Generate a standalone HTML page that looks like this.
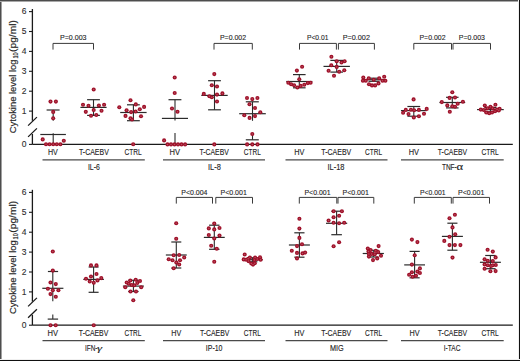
<!DOCTYPE html>
<html><head><meta charset="utf-8"><title>Cytokine levels</title><style>
html,body{margin:0;padding:0;background:#fff;overflow:hidden}
svg{display:block}
text{font-family:"Liberation Sans",sans-serif}
.t text{stroke:#1e1e1e;stroke-width:0.12px}
</style></head><body>
<svg width="520" height="361" viewBox="0 0 520 361">
<rect x="0" y="0" width="520" height="361" fill="#fff"/>
<g fill="#1e1e1e">
<g stroke-linecap="butt" fill="none">
<line x1="32.4" y1="9" x2="32.4" y2="120.8" stroke="#1a1a1a" stroke-width="1.3"/>
<line x1="32.4" y1="134" x2="32.4" y2="144.4" stroke="#1a1a1a" stroke-width="1.3"/>
<line x1="28.1" y1="125.6" x2="36.9" y2="117.1" stroke="#1a1a1a" stroke-width="1.3"/>
<line x1="28.1" y1="136.9" x2="36.9" y2="128.4" stroke="#1a1a1a" stroke-width="1.3"/>
<line x1="32.4" y1="144.4" x2="512.8" y2="144.4" stroke="#1a1a1a" stroke-width="1.3"/>
<line x1="29" y1="11.6" x2="32.4" y2="11.6" stroke="#1a1a1a" stroke-width="1.1"/>
<line x1="29" y1="31.5" x2="32.4" y2="31.5" stroke="#1a1a1a" stroke-width="1.1"/>
<line x1="29" y1="51.4" x2="32.4" y2="51.4" stroke="#1a1a1a" stroke-width="1.1"/>
<line x1="29" y1="71.3" x2="32.4" y2="71.3" stroke="#1a1a1a" stroke-width="1.1"/>
<line x1="29" y1="91.2" x2="32.4" y2="91.2" stroke="#1a1a1a" stroke-width="1.1"/>
<line x1="29" y1="111.1" x2="32.4" y2="111.1" stroke="#1a1a1a" stroke-width="1.1"/>
<line x1="29" y1="144.4" x2="32.4" y2="144.4" stroke="#1a1a1a" stroke-width="1.1"/>
<line x1="42.5" y1="159.8" x2="144.8" y2="159.8" stroke="#4a4a4a" stroke-width="1.2"/>
<line x1="163" y1="159.8" x2="265" y2="159.8" stroke="#4a4a4a" stroke-width="1.2"/>
<line x1="285.5" y1="159.8" x2="387.5" y2="159.8" stroke="#4a4a4a" stroke-width="1.2"/>
<line x1="401" y1="159.8" x2="503.7" y2="159.8" stroke="#4a4a4a" stroke-width="1.2"/>
<line x1="32.4" y1="189.8" x2="32.4" y2="301.6" stroke="#1a1a1a" stroke-width="1.3"/>
<line x1="32.4" y1="314.8" x2="32.4" y2="325.2" stroke="#1a1a1a" stroke-width="1.3"/>
<line x1="28.1" y1="306.4" x2="36.9" y2="297.9" stroke="#1a1a1a" stroke-width="1.3"/>
<line x1="28.1" y1="317.7" x2="36.9" y2="309.2" stroke="#1a1a1a" stroke-width="1.3"/>
<line x1="32.4" y1="325.2" x2="512.8" y2="325.2" stroke="#1a1a1a" stroke-width="1.3"/>
<line x1="29" y1="192.4" x2="32.4" y2="192.4" stroke="#1a1a1a" stroke-width="1.1"/>
<line x1="29" y1="212.3" x2="32.4" y2="212.3" stroke="#1a1a1a" stroke-width="1.1"/>
<line x1="29" y1="232.2" x2="32.4" y2="232.2" stroke="#1a1a1a" stroke-width="1.1"/>
<line x1="29" y1="252.1" x2="32.4" y2="252.1" stroke="#1a1a1a" stroke-width="1.1"/>
<line x1="29" y1="272" x2="32.4" y2="272" stroke="#1a1a1a" stroke-width="1.1"/>
<line x1="29" y1="291.9" x2="32.4" y2="291.9" stroke="#1a1a1a" stroke-width="1.1"/>
<line x1="29" y1="325.2" x2="32.4" y2="325.2" stroke="#1a1a1a" stroke-width="1.1"/>
<line x1="42.5" y1="340.6" x2="144.8" y2="340.6" stroke="#4a4a4a" stroke-width="1.2"/>
<line x1="163" y1="340.6" x2="265" y2="340.6" stroke="#4a4a4a" stroke-width="1.2"/>
<line x1="285.5" y1="340.6" x2="387.5" y2="340.6" stroke="#4a4a4a" stroke-width="1.2"/>
<line x1="401" y1="340.6" x2="503.7" y2="340.6" stroke="#4a4a4a" stroke-width="1.2"/>
<line x1="46.6" y1="110" x2="59.6" y2="110" stroke="#2b2b2b" stroke-width="1.2"/>
<line x1="53.2" y1="110" x2="53.2" y2="120.8" stroke="#2b2b2b" stroke-width="1.1"/>
<line x1="40.3" y1="134.5" x2="65.9" y2="134.5" stroke="#2b2b2b" stroke-width="1.2"/>
<line x1="53.2" y1="133.3" x2="53.2" y2="144.3" stroke="#2b2b2b" stroke-width="1.1"/>
<line x1="87.1" y1="99.7" x2="99.9" y2="99.7" stroke="#2b2b2b" stroke-width="1.2"/>
<line x1="87.1" y1="115.4" x2="99.9" y2="115.4" stroke="#2b2b2b" stroke-width="1.2"/>
<line x1="80.4" y1="107.4" x2="106.6" y2="107.4" stroke="#2b2b2b" stroke-width="1.2"/>
<line x1="93.5" y1="99.7" x2="93.5" y2="115.4" stroke="#2b2b2b" stroke-width="1.1"/>
<line x1="127" y1="104.8" x2="139.8" y2="104.8" stroke="#2b2b2b" stroke-width="1.2"/>
<line x1="127" y1="120.7" x2="139.8" y2="120.7" stroke="#2b2b2b" stroke-width="1.2"/>
<line x1="120.2" y1="112.5" x2="146.6" y2="112.5" stroke="#2b2b2b" stroke-width="1.2"/>
<line x1="133.4" y1="104.8" x2="133.4" y2="120.7" stroke="#2b2b2b" stroke-width="1.1"/>
<line x1="168.5" y1="99.7" x2="181.4" y2="99.7" stroke="#2b2b2b" stroke-width="1.2"/>
<line x1="175" y1="99.7" x2="175" y2="120.6" stroke="#2b2b2b" stroke-width="1.1"/>
<line x1="161.9" y1="118.4" x2="188" y2="118.4" stroke="#2b2b2b" stroke-width="1.2"/>
<line x1="175" y1="133.1" x2="175" y2="144.4" stroke="#2b2b2b" stroke-width="1.1"/>
<line x1="208.1" y1="80.7" x2="220.9" y2="80.7" stroke="#2b2b2b" stroke-width="1.2"/>
<line x1="208.1" y1="109.8" x2="220.9" y2="109.8" stroke="#2b2b2b" stroke-width="1.2"/>
<line x1="201.3" y1="95.4" x2="227.7" y2="95.4" stroke="#2b2b2b" stroke-width="1.2"/>
<line x1="214.5" y1="80.7" x2="214.5" y2="109.8" stroke="#2b2b2b" stroke-width="1.1"/>
<line x1="245.8" y1="101.8" x2="258.8" y2="101.8" stroke="#2b2b2b" stroke-width="1.2"/>
<line x1="252.5" y1="101.8" x2="252.5" y2="120.8" stroke="#2b2b2b" stroke-width="1.1"/>
<line x1="239.2" y1="113.7" x2="265.8" y2="113.7" stroke="#2b2b2b" stroke-width="1.2"/>
<line x1="245.8" y1="139.8" x2="258.8" y2="139.8" stroke="#2b2b2b" stroke-width="1.2"/>
<line x1="252.5" y1="133" x2="252.5" y2="139.8" stroke="#2b2b2b" stroke-width="1.1"/>
<line x1="293" y1="74.6" x2="305.6" y2="74.6" stroke="#2b2b2b" stroke-width="1.2"/>
<line x1="293" y1="87.8" x2="305.6" y2="87.8" stroke="#2b2b2b" stroke-width="1.2"/>
<line x1="286.25" y1="81.5" x2="312.35" y2="81.5" stroke="#2b2b2b" stroke-width="1.2"/>
<line x1="299.3" y1="74.6" x2="299.3" y2="87.8" stroke="#2b2b2b" stroke-width="1.1"/>
<line x1="330.35" y1="60.4" x2="343.05" y2="60.4" stroke="#2b2b2b" stroke-width="1.2"/>
<line x1="330.35" y1="72.1" x2="343.05" y2="72.1" stroke="#2b2b2b" stroke-width="1.2"/>
<line x1="323.5" y1="66.4" x2="349.9" y2="66.4" stroke="#2b2b2b" stroke-width="1.2"/>
<line x1="336.7" y1="60.4" x2="336.7" y2="72.1" stroke="#2b2b2b" stroke-width="1.1"/>
<line x1="368.5" y1="78.2" x2="379.5" y2="78.2" stroke="#2b2b2b" stroke-width="1.2"/>
<line x1="368.5" y1="81.3" x2="379.5" y2="81.3" stroke="#2b2b2b" stroke-width="1.2"/>
<line x1="362" y1="79.7" x2="386" y2="79.7" stroke="#2b2b2b" stroke-width="1.2"/>
<line x1="374" y1="78.2" x2="374" y2="81.3" stroke="#2b2b2b" stroke-width="1.1"/>
<line x1="407.4" y1="106.5" x2="420.2" y2="106.5" stroke="#2b2b2b" stroke-width="1.2"/>
<line x1="407.4" y1="116.2" x2="420.2" y2="116.2" stroke="#2b2b2b" stroke-width="1.2"/>
<line x1="400.95" y1="110.6" x2="426.65" y2="110.6" stroke="#2b2b2b" stroke-width="1.2"/>
<line x1="413.8" y1="106.5" x2="413.8" y2="116.2" stroke="#2b2b2b" stroke-width="1.1"/>
<line x1="446.05" y1="97.3" x2="458.55" y2="97.3" stroke="#2b2b2b" stroke-width="1.2"/>
<line x1="446.05" y1="107.9" x2="458.55" y2="107.9" stroke="#2b2b2b" stroke-width="1.2"/>
<line x1="439.4" y1="102.5" x2="465.2" y2="102.5" stroke="#2b2b2b" stroke-width="1.2"/>
<line x1="452.3" y1="97.3" x2="452.3" y2="107.9" stroke="#2b2b2b" stroke-width="1.1"/>
<line x1="484.4" y1="107.6" x2="496.4" y2="107.6" stroke="#2b2b2b" stroke-width="1.2"/>
<line x1="484.4" y1="111.8" x2="496.4" y2="111.8" stroke="#2b2b2b" stroke-width="1.2"/>
<line x1="477.05" y1="109.6" x2="503.75" y2="109.6" stroke="#2b2b2b" stroke-width="1.2"/>
<line x1="490.4" y1="107.6" x2="490.4" y2="111.8" stroke="#2b2b2b" stroke-width="1.1"/>
<line x1="47.9" y1="271.5" x2="58.1" y2="271.5" stroke="#2b2b2b" stroke-width="1.2"/>
<line x1="52.8" y1="271.5" x2="52.8" y2="301.2" stroke="#2b2b2b" stroke-width="1.1"/>
<line x1="42.3" y1="288.3" x2="63.4" y2="288.3" stroke="#2b2b2b" stroke-width="1.2"/>
<line x1="47.7" y1="319.1" x2="58.1" y2="319.1" stroke="#2b2b2b" stroke-width="1.2"/>
<line x1="52.8" y1="314.4" x2="52.8" y2="319.1" stroke="#2b2b2b" stroke-width="1.1"/>
<line x1="88.6" y1="267" x2="98.6" y2="267" stroke="#2b2b2b" stroke-width="1.2"/>
<line x1="88.6" y1="292.3" x2="98.6" y2="292.3" stroke="#2b2b2b" stroke-width="1.2"/>
<line x1="83.3" y1="279.4" x2="103.9" y2="279.4" stroke="#2b2b2b" stroke-width="1.2"/>
<line x1="93.6" y1="267" x2="93.6" y2="292.3" stroke="#2b2b2b" stroke-width="1.1"/>
<line x1="128.2" y1="280.3" x2="138.6" y2="280.3" stroke="#2b2b2b" stroke-width="1.2"/>
<line x1="128.2" y1="291.5" x2="138.6" y2="291.5" stroke="#2b2b2b" stroke-width="1.2"/>
<line x1="122.9" y1="286.1" x2="143.9" y2="286.1" stroke="#2b2b2b" stroke-width="1.2"/>
<line x1="133.4" y1="280.3" x2="133.4" y2="291.5" stroke="#2b2b2b" stroke-width="1.1"/>
<line x1="171.3" y1="242" x2="181.3" y2="242" stroke="#2b2b2b" stroke-width="1.2"/>
<line x1="171.3" y1="268" x2="181.3" y2="268" stroke="#2b2b2b" stroke-width="1.2"/>
<line x1="165.85" y1="255" x2="186.75" y2="255" stroke="#2b2b2b" stroke-width="1.2"/>
<line x1="176.3" y1="242" x2="176.3" y2="268" stroke="#2b2b2b" stroke-width="1.1"/>
<line x1="209.1" y1="225.2" x2="219.5" y2="225.2" stroke="#2b2b2b" stroke-width="1.2"/>
<line x1="209.1" y1="249.3" x2="219.5" y2="249.3" stroke="#2b2b2b" stroke-width="1.2"/>
<line x1="203.85" y1="237.4" x2="224.75" y2="237.4" stroke="#2b2b2b" stroke-width="1.2"/>
<line x1="214.3" y1="225.2" x2="214.3" y2="249.3" stroke="#2b2b2b" stroke-width="1.1"/>
<line x1="247.4" y1="257.8" x2="257.4" y2="257.8" stroke="#2b2b2b" stroke-width="1.2"/>
<line x1="247.4" y1="261.8" x2="257.4" y2="261.8" stroke="#2b2b2b" stroke-width="1.2"/>
<line x1="242" y1="259.7" x2="262.8" y2="259.7" stroke="#2b2b2b" stroke-width="1.2"/>
<line x1="252.4" y1="257.8" x2="252.4" y2="261.8" stroke="#2b2b2b" stroke-width="1.1"/>
<line x1="294.3" y1="232.8" x2="304.5" y2="232.8" stroke="#2b2b2b" stroke-width="1.2"/>
<line x1="294.3" y1="257.2" x2="304.5" y2="257.2" stroke="#2b2b2b" stroke-width="1.2"/>
<line x1="288.9" y1="245" x2="309.9" y2="245" stroke="#2b2b2b" stroke-width="1.2"/>
<line x1="299.4" y1="232.8" x2="299.4" y2="257.2" stroke="#2b2b2b" stroke-width="1.1"/>
<line x1="331.3" y1="211.2" x2="341.9" y2="211.2" stroke="#2b2b2b" stroke-width="1.2"/>
<line x1="331.3" y1="234.7" x2="341.9" y2="234.7" stroke="#2b2b2b" stroke-width="1.2"/>
<line x1="326" y1="223.3" x2="347.2" y2="223.3" stroke="#2b2b2b" stroke-width="1.2"/>
<line x1="336.6" y1="211.2" x2="336.6" y2="234.7" stroke="#2b2b2b" stroke-width="1.1"/>
<line x1="368.1" y1="250.3" x2="378.5" y2="250.3" stroke="#2b2b2b" stroke-width="1.2"/>
<line x1="368.1" y1="257" x2="378.5" y2="257" stroke="#2b2b2b" stroke-width="1.2"/>
<line x1="362.7" y1="253.5" x2="383.9" y2="253.5" stroke="#2b2b2b" stroke-width="1.2"/>
<line x1="373.3" y1="250.3" x2="373.3" y2="257" stroke="#2b2b2b" stroke-width="1.1"/>
<line x1="409.55" y1="251.4" x2="419.65" y2="251.4" stroke="#2b2b2b" stroke-width="1.2"/>
<line x1="409.55" y1="277.8" x2="419.65" y2="277.8" stroke="#2b2b2b" stroke-width="1.2"/>
<line x1="404.2" y1="264.9" x2="425" y2="264.9" stroke="#2b2b2b" stroke-width="1.2"/>
<line x1="414.6" y1="251.4" x2="414.6" y2="277.8" stroke="#2b2b2b" stroke-width="1.1"/>
<line x1="447.35" y1="223.2" x2="457.45" y2="223.2" stroke="#2b2b2b" stroke-width="1.2"/>
<line x1="447.35" y1="250.2" x2="457.45" y2="250.2" stroke="#2b2b2b" stroke-width="1.2"/>
<line x1="441.9" y1="236.4" x2="462.9" y2="236.4" stroke="#2b2b2b" stroke-width="1.2"/>
<line x1="452.4" y1="223.2" x2="452.4" y2="250.2" stroke="#2b2b2b" stroke-width="1.1"/>
<line x1="485.2" y1="255.5" x2="495.6" y2="255.5" stroke="#2b2b2b" stroke-width="1.2"/>
<line x1="485.2" y1="268.7" x2="495.6" y2="268.7" stroke="#2b2b2b" stroke-width="1.2"/>
<line x1="479.9" y1="262.3" x2="500.9" y2="262.3" stroke="#2b2b2b" stroke-width="1.2"/>
<line x1="490.4" y1="255.5" x2="490.4" y2="268.7" stroke="#2b2b2b" stroke-width="1.1"/>
<path d="M53 49.6V43.4H93.5V49.6" stroke="#3a3a3a" stroke-width="1.0"/>
<path d="M214 49.6V43.4H252.3V49.6" stroke="#3a3a3a" stroke-width="1.0"/>
<path d="M299.5 49.6V43.4H336.4V49.6" stroke="#3a3a3a" stroke-width="1.0"/>
<path d="M338.4 49.6V43.4H374.4V49.6" stroke="#3a3a3a" stroke-width="1.0"/>
<path d="M413.8 49.6V43.4H451.5V49.6" stroke="#3a3a3a" stroke-width="1.0"/>
<path d="M453 49.6V43.4H490.5V49.6" stroke="#3a3a3a" stroke-width="1.0"/>
<path d="M176.3 203.6V197.4H212.5V203.6" stroke="#3a3a3a" stroke-width="1.0"/>
<path d="M215.8 203.6V197.4H252.5V203.6" stroke="#3a3a3a" stroke-width="1.0"/>
<path d="M299.3 203.6V197.4H336.8V203.6" stroke="#3a3a3a" stroke-width="1.0"/>
<path d="M338 203.6V197.4H373.8V203.6" stroke="#3a3a3a" stroke-width="1.0"/>
<path d="M414.3 203.6V197.4H451.3V203.6" stroke="#3a3a3a" stroke-width="1.0"/>
<path d="M453 203.6V197.4H489.5V203.6" stroke="#3a3a3a" stroke-width="1.0"/>
</g>
<g fill="#9f1029">
<circle cx="50.5" cy="101.6" r="2.05"/>
<circle cx="55.9" cy="101.6" r="2.05"/>
<circle cx="53.2" cy="111.9" r="2.05"/>
<circle cx="53.2" cy="118.2" r="2.05"/>
<circle cx="42.7" cy="139.4" r="2.05"/>
<circle cx="63.8" cy="140.8" r="2.05"/>
<circle cx="46" cy="144.3" r="2.05"/>
<circle cx="49.6" cy="144.3" r="2.05"/>
<circle cx="53.2" cy="144.3" r="2.05"/>
<circle cx="56.8" cy="144.3" r="2.05"/>
<circle cx="60.4" cy="144.3" r="2.05"/>
<circle cx="93.7" cy="89.5" r="2.05"/>
<circle cx="83" cy="104.8" r="2.05"/>
<circle cx="88.5" cy="105.75" r="2.05"/>
<circle cx="98.9" cy="105.6" r="2.05"/>
<circle cx="104.1" cy="104.7" r="2.05"/>
<circle cx="85.8" cy="111.85" r="2.05"/>
<circle cx="93.7" cy="110" r="2.05"/>
<circle cx="101.5" cy="110.75" r="2.05"/>
<circle cx="91" cy="115.8" r="2.05"/>
<circle cx="96.3" cy="115" r="2.05"/>
<circle cx="130.5" cy="100.3" r="2.05"/>
<circle cx="135.8" cy="104.4" r="2.05"/>
<circle cx="119.3" cy="107.3" r="2.05"/>
<circle cx="144.1" cy="106.9" r="2.05"/>
<circle cx="139.8" cy="109.2" r="2.05"/>
<circle cx="126.6" cy="110.2" r="2.05"/>
<circle cx="131.1" cy="112.1" r="2.05"/>
<circle cx="135.6" cy="111.5" r="2.05"/>
<circle cx="125.5" cy="115.9" r="2.05"/>
<circle cx="141" cy="116.3" r="2.05"/>
<circle cx="130.5" cy="118.3" r="2.05"/>
<circle cx="132" cy="119.5" r="2.05"/>
<circle cx="133.2" cy="144.3" r="2.05"/>
<circle cx="174.7" cy="77.5" r="2.05"/>
<circle cx="174.7" cy="93" r="2.05"/>
<circle cx="172" cy="108.5" r="2.05"/>
<circle cx="177.5" cy="111.8" r="2.05"/>
<circle cx="164.1" cy="140.4" r="2.05"/>
<circle cx="167.5" cy="144.4" r="2.05"/>
<circle cx="171" cy="144.4" r="2.05"/>
<circle cx="174.5" cy="144.4" r="2.05"/>
<circle cx="178" cy="144.4" r="2.05"/>
<circle cx="181.5" cy="144.4" r="2.05"/>
<circle cx="185.1" cy="144.4" r="2.05"/>
<circle cx="214.3" cy="74.1" r="2.05"/>
<circle cx="211.8" cy="85.3" r="2.05"/>
<circle cx="217" cy="86.5" r="2.05"/>
<circle cx="203.8" cy="93.9" r="2.05"/>
<circle cx="209.4" cy="96.3" r="2.05"/>
<circle cx="211.8" cy="97.3" r="2.05"/>
<circle cx="217" cy="94.6" r="2.05"/>
<circle cx="222.4" cy="93.4" r="2.05"/>
<circle cx="217" cy="101.5" r="2.05"/>
<circle cx="214.3" cy="144.4" r="2.05"/>
<circle cx="247" cy="98" r="2.05"/>
<circle cx="252.3" cy="99.1" r="2.05"/>
<circle cx="257.4" cy="98" r="2.05"/>
<circle cx="249.5" cy="104.2" r="2.05"/>
<circle cx="255" cy="108" r="2.05"/>
<circle cx="260.3" cy="112.2" r="2.05"/>
<circle cx="244.3" cy="115.2" r="2.05"/>
<circle cx="249.6" cy="117.9" r="2.05"/>
<circle cx="255" cy="116.1" r="2.05"/>
<circle cx="252.3" cy="134" r="2.05"/>
<circle cx="247.1" cy="144.4" r="2.05"/>
<circle cx="252.3" cy="144.4" r="2.05"/>
<circle cx="257.5" cy="144.4" r="2.05"/>
<circle cx="302.1" cy="66.8" r="2.05"/>
<circle cx="296.9" cy="70.6" r="2.05"/>
<circle cx="299.3" cy="79.3" r="2.05"/>
<circle cx="288.3" cy="82.8" r="2.05"/>
<circle cx="291.1" cy="84.3" r="2.05"/>
<circle cx="294.1" cy="85.2" r="2.05"/>
<circle cx="297.4" cy="87.5" r="2.05"/>
<circle cx="300.7" cy="85.9" r="2.05"/>
<circle cx="304.3" cy="84.7" r="2.05"/>
<circle cx="307.8" cy="83.1" r="2.05"/>
<circle cx="310.6" cy="82.8" r="2.05"/>
<circle cx="331.4" cy="56.7" r="2.05"/>
<circle cx="336.7" cy="61.25" r="2.05"/>
<circle cx="341.5" cy="62.5" r="2.05"/>
<circle cx="344.6" cy="61.25" r="2.05"/>
<circle cx="331.25" cy="65.25" r="2.05"/>
<circle cx="336.7" cy="66.9" r="2.05"/>
<circle cx="328.6" cy="70.7" r="2.05"/>
<circle cx="339.2" cy="71.8" r="2.05"/>
<circle cx="344.3" cy="70.25" r="2.05"/>
<circle cx="334" cy="75.7" r="2.05"/>
<circle cx="363.3" cy="77.5" r="2.05"/>
<circle cx="362.9" cy="80.8" r="2.05"/>
<circle cx="365.8" cy="80.8" r="2.05"/>
<circle cx="368.75" cy="78.3" r="2.05"/>
<circle cx="373.75" cy="79.8" r="2.05"/>
<circle cx="379.2" cy="78.3" r="2.05"/>
<circle cx="384.2" cy="76.7" r="2.05"/>
<circle cx="385.4" cy="80.7" r="2.05"/>
<circle cx="382.5" cy="80.8" r="2.05"/>
<circle cx="369" cy="84.3" r="2.05"/>
<circle cx="372" cy="85.4" r="2.05"/>
<circle cx="375.1" cy="85.4" r="2.05"/>
<circle cx="378.5" cy="83.4" r="2.05"/>
<circle cx="413.6" cy="99.4" r="2.05"/>
<circle cx="405.8" cy="109.9" r="2.05"/>
<circle cx="410.9" cy="109.7" r="2.05"/>
<circle cx="414.1" cy="110.2" r="2.05"/>
<circle cx="418.9" cy="109.9" r="2.05"/>
<circle cx="426.7" cy="108.9" r="2.05"/>
<circle cx="403.1" cy="112.8" r="2.05"/>
<circle cx="408.5" cy="114.1" r="2.05"/>
<circle cx="424" cy="113.8" r="2.05"/>
<circle cx="413.8" cy="117.5" r="2.05"/>
<circle cx="418.9" cy="116.2" r="2.05"/>
<circle cx="452.3" cy="92.3" r="2.05"/>
<circle cx="449.6" cy="97.9" r="2.05"/>
<circle cx="455" cy="97.5" r="2.05"/>
<circle cx="441.8" cy="102.1" r="2.05"/>
<circle cx="462.9" cy="101.8" r="2.05"/>
<circle cx="457.7" cy="103.75" r="2.05"/>
<circle cx="447.3" cy="105.4" r="2.05"/>
<circle cx="452.3" cy="106.25" r="2.05"/>
<circle cx="455" cy="106.8" r="2.05"/>
<circle cx="449.8" cy="111.8" r="2.05"/>
<circle cx="484.8" cy="105.6" r="2.05"/>
<circle cx="495.4" cy="104.8" r="2.05"/>
<circle cx="490.4" cy="106.7" r="2.05"/>
<circle cx="480.8" cy="109.6" r="2.05"/>
<circle cx="483.75" cy="110" r="2.05"/>
<circle cx="487.5" cy="108.3" r="2.05"/>
<circle cx="492.5" cy="108.3" r="2.05"/>
<circle cx="497" cy="109.6" r="2.05"/>
<circle cx="499.6" cy="108.75" r="2.05"/>
<circle cx="486.25" cy="112.5" r="2.05"/>
<circle cx="489.2" cy="113.2" r="2.05"/>
<circle cx="492" cy="112.5" r="2.05"/>
<circle cx="495" cy="111.25" r="2.05"/>
<circle cx="498.75" cy="110.4" r="2.05"/>
<circle cx="52.8" cy="251.55" r="2.05"/>
<circle cx="52.8" cy="270.6" r="2.05"/>
<circle cx="50.5" cy="282.5" r="2.05"/>
<circle cx="55.8" cy="284.1" r="2.05"/>
<circle cx="47.9" cy="288.8" r="2.05"/>
<circle cx="52.8" cy="290.2" r="2.05"/>
<circle cx="58.4" cy="290.2" r="2.05"/>
<circle cx="50.5" cy="294.1" r="2.05"/>
<circle cx="55.8" cy="296.7" r="2.05"/>
<circle cx="50.5" cy="325.2" r="2.05"/>
<circle cx="55.7" cy="325.2" r="2.05"/>
<circle cx="91" cy="265.4" r="2.05"/>
<circle cx="96.5" cy="265.4" r="2.05"/>
<circle cx="96.5" cy="274" r="2.05"/>
<circle cx="91" cy="276.5" r="2.05"/>
<circle cx="86" cy="278.75" r="2.05"/>
<circle cx="101.25" cy="278.1" r="2.05"/>
<circle cx="97.5" cy="280.4" r="2.05"/>
<circle cx="89.75" cy="281.5" r="2.05"/>
<circle cx="93.75" cy="282.75" r="2.05"/>
<circle cx="93.75" cy="325.2" r="2.05"/>
<circle cx="126.7" cy="282.5" r="2.05"/>
<circle cx="130.3" cy="280.5" r="2.05"/>
<circle cx="135.7" cy="279.7" r="2.05"/>
<circle cx="140" cy="281" r="2.05"/>
<circle cx="137.3" cy="283" r="2.05"/>
<circle cx="131.7" cy="285" r="2.05"/>
<circle cx="134.3" cy="285.3" r="2.05"/>
<circle cx="128.7" cy="283.7" r="2.05"/>
<circle cx="125.3" cy="287.3" r="2.05"/>
<circle cx="141.2" cy="287.3" r="2.05"/>
<circle cx="130.5" cy="291.5" r="2.05"/>
<circle cx="136" cy="291.5" r="2.05"/>
<circle cx="133.3" cy="300.3" r="2.05"/>
<circle cx="176.2" cy="223.3" r="2.05"/>
<circle cx="176.2" cy="238.8" r="2.05"/>
<circle cx="173.7" cy="255.3" r="2.05"/>
<circle cx="179.2" cy="255" r="2.05"/>
<circle cx="184.2" cy="257.5" r="2.05"/>
<circle cx="168.7" cy="259.2" r="2.05"/>
<circle cx="172.5" cy="260.3" r="2.05"/>
<circle cx="180" cy="260.3" r="2.05"/>
<circle cx="176.3" cy="262.5" r="2.05"/>
<circle cx="179.2" cy="264.5" r="2.05"/>
<circle cx="173.7" cy="268.3" r="2.05"/>
<circle cx="214.25" cy="223.5" r="2.05"/>
<circle cx="208.8" cy="228.4" r="2.05"/>
<circle cx="214.25" cy="229.4" r="2.05"/>
<circle cx="219.5" cy="228" r="2.05"/>
<circle cx="208.8" cy="235" r="2.05"/>
<circle cx="219.5" cy="235.6" r="2.05"/>
<circle cx="214.25" cy="238.5" r="2.05"/>
<circle cx="211.2" cy="245.8" r="2.05"/>
<circle cx="216.75" cy="248.8" r="2.05"/>
<circle cx="214.25" cy="261.75" r="2.05"/>
<circle cx="244.7" cy="254.5" r="2.05"/>
<circle cx="243.7" cy="259.4" r="2.05"/>
<circle cx="246.1" cy="259.7" r="2.05"/>
<circle cx="248.2" cy="258.7" r="2.05"/>
<circle cx="249.9" cy="257.5" r="2.05"/>
<circle cx="248.5" cy="261.1" r="2.05"/>
<circle cx="251.3" cy="263.5" r="2.05"/>
<circle cx="253" cy="264.6" r="2.05"/>
<circle cx="254.75" cy="263.2" r="2.05"/>
<circle cx="255.1" cy="257.6" r="2.05"/>
<circle cx="254.4" cy="260" r="2.05"/>
<circle cx="257.2" cy="259" r="2.05"/>
<circle cx="260" cy="257.3" r="2.05"/>
<circle cx="260.6" cy="259.7" r="2.05"/>
<circle cx="299.4" cy="218.7" r="2.05"/>
<circle cx="299.4" cy="228.6" r="2.05"/>
<circle cx="299.4" cy="237.9" r="2.05"/>
<circle cx="297" cy="246.1" r="2.05"/>
<circle cx="302" cy="244.2" r="2.05"/>
<circle cx="291.8" cy="250.8" r="2.05"/>
<circle cx="297" cy="252.9" r="2.05"/>
<circle cx="302.5" cy="253.4" r="2.05"/>
<circle cx="305.1" cy="252.6" r="2.05"/>
<circle cx="297" cy="258.4" r="2.05"/>
<circle cx="333.6" cy="211.2" r="2.05"/>
<circle cx="341.9" cy="211.2" r="2.05"/>
<circle cx="333.6" cy="217.2" r="2.05"/>
<circle cx="339.1" cy="215.8" r="2.05"/>
<circle cx="328.6" cy="220.5" r="2.05"/>
<circle cx="333.6" cy="222.7" r="2.05"/>
<circle cx="339.1" cy="223.3" r="2.05"/>
<circle cx="344.2" cy="222.7" r="2.05"/>
<circle cx="339.1" cy="242.3" r="2.05"/>
<circle cx="333.6" cy="246.2" r="2.05"/>
<circle cx="378.6" cy="246.1" r="2.05"/>
<circle cx="367.8" cy="248.5" r="2.05"/>
<circle cx="370.6" cy="250" r="2.05"/>
<circle cx="368.5" cy="251.4" r="2.05"/>
<circle cx="375.8" cy="250.7" r="2.05"/>
<circle cx="378.2" cy="252.1" r="2.05"/>
<circle cx="368.9" cy="253.9" r="2.05"/>
<circle cx="371.6" cy="253.9" r="2.05"/>
<circle cx="374.75" cy="254.2" r="2.05"/>
<circle cx="368.9" cy="256.6" r="2.05"/>
<circle cx="381" cy="255.8" r="2.05"/>
<circle cx="377.2" cy="258.4" r="2.05"/>
<circle cx="373" cy="260.1" r="2.05"/>
<circle cx="411.9" cy="239.6" r="2.05"/>
<circle cx="417.4" cy="242.1" r="2.05"/>
<circle cx="414.7" cy="255.2" r="2.05"/>
<circle cx="411.9" cy="264.6" r="2.05"/>
<circle cx="419.9" cy="268.4" r="2.05"/>
<circle cx="411.9" cy="272.3" r="2.05"/>
<circle cx="417.4" cy="271.6" r="2.05"/>
<circle cx="419.9" cy="273" r="2.05"/>
<circle cx="409.1" cy="274.8" r="2.05"/>
<circle cx="412.6" cy="276.7" r="2.05"/>
<circle cx="416" cy="275.75" r="2.05"/>
<circle cx="449.5" cy="218.2" r="2.05"/>
<circle cx="454.9" cy="214.7" r="2.05"/>
<circle cx="452.5" cy="227.4" r="2.05"/>
<circle cx="455.2" cy="234.2" r="2.05"/>
<circle cx="449.5" cy="236.7" r="2.05"/>
<circle cx="444.3" cy="240.9" r="2.05"/>
<circle cx="449.5" cy="245.1" r="2.05"/>
<circle cx="454.9" cy="245.1" r="2.05"/>
<circle cx="460.4" cy="245.1" r="2.05"/>
<circle cx="452.5" cy="257.6" r="2.05"/>
<circle cx="487.6" cy="249.8" r="2.05"/>
<circle cx="492.8" cy="251.6" r="2.05"/>
<circle cx="495.6" cy="257.4" r="2.05"/>
<circle cx="484.6" cy="259.2" r="2.05"/>
<circle cx="487.8" cy="260.7" r="2.05"/>
<circle cx="492.8" cy="261" r="2.05"/>
<circle cx="484.6" cy="264.4" r="2.05"/>
<circle cx="487.8" cy="265.3" r="2.05"/>
<circle cx="491" cy="266" r="2.05"/>
<circle cx="492.8" cy="265.3" r="2.05"/>
<circle cx="495.8" cy="265" r="2.05"/>
<circle cx="484.6" cy="268.7" r="2.05"/>
<circle cx="490.4" cy="271.25" r="2.05"/>
<circle cx="495.6" cy="271.1" r="2.05"/>
</g>
<g fill="#b8505f">
<circle cx="50.5" cy="101.6" r="0.75"/>
<circle cx="55.9" cy="101.6" r="0.75"/>
<circle cx="53.2" cy="111.9" r="0.75"/>
<circle cx="53.2" cy="118.2" r="0.75"/>
<circle cx="42.7" cy="139.4" r="0.75"/>
<circle cx="63.8" cy="140.8" r="0.75"/>
<circle cx="46" cy="144.3" r="0.75"/>
<circle cx="49.6" cy="144.3" r="0.75"/>
<circle cx="53.2" cy="144.3" r="0.75"/>
<circle cx="56.8" cy="144.3" r="0.75"/>
<circle cx="60.4" cy="144.3" r="0.75"/>
<circle cx="93.7" cy="89.5" r="0.75"/>
<circle cx="83" cy="104.8" r="0.75"/>
<circle cx="88.5" cy="105.75" r="0.75"/>
<circle cx="98.9" cy="105.6" r="0.75"/>
<circle cx="104.1" cy="104.7" r="0.75"/>
<circle cx="85.8" cy="111.85" r="0.75"/>
<circle cx="93.7" cy="110" r="0.75"/>
<circle cx="101.5" cy="110.75" r="0.75"/>
<circle cx="91" cy="115.8" r="0.75"/>
<circle cx="96.3" cy="115" r="0.75"/>
<circle cx="130.5" cy="100.3" r="0.75"/>
<circle cx="135.8" cy="104.4" r="0.75"/>
<circle cx="119.3" cy="107.3" r="0.75"/>
<circle cx="144.1" cy="106.9" r="0.75"/>
<circle cx="139.8" cy="109.2" r="0.75"/>
<circle cx="126.6" cy="110.2" r="0.75"/>
<circle cx="131.1" cy="112.1" r="0.75"/>
<circle cx="135.6" cy="111.5" r="0.75"/>
<circle cx="125.5" cy="115.9" r="0.75"/>
<circle cx="141" cy="116.3" r="0.75"/>
<circle cx="130.5" cy="118.3" r="0.75"/>
<circle cx="132" cy="119.5" r="0.75"/>
<circle cx="133.2" cy="144.3" r="0.75"/>
<circle cx="174.7" cy="77.5" r="0.75"/>
<circle cx="174.7" cy="93" r="0.75"/>
<circle cx="172" cy="108.5" r="0.75"/>
<circle cx="177.5" cy="111.8" r="0.75"/>
<circle cx="164.1" cy="140.4" r="0.75"/>
<circle cx="167.5" cy="144.4" r="0.75"/>
<circle cx="171" cy="144.4" r="0.75"/>
<circle cx="174.5" cy="144.4" r="0.75"/>
<circle cx="178" cy="144.4" r="0.75"/>
<circle cx="181.5" cy="144.4" r="0.75"/>
<circle cx="185.1" cy="144.4" r="0.75"/>
<circle cx="214.3" cy="74.1" r="0.75"/>
<circle cx="211.8" cy="85.3" r="0.75"/>
<circle cx="217" cy="86.5" r="0.75"/>
<circle cx="203.8" cy="93.9" r="0.75"/>
<circle cx="209.4" cy="96.3" r="0.75"/>
<circle cx="211.8" cy="97.3" r="0.75"/>
<circle cx="217" cy="94.6" r="0.75"/>
<circle cx="222.4" cy="93.4" r="0.75"/>
<circle cx="217" cy="101.5" r="0.75"/>
<circle cx="214.3" cy="144.4" r="0.75"/>
<circle cx="247" cy="98" r="0.75"/>
<circle cx="252.3" cy="99.1" r="0.75"/>
<circle cx="257.4" cy="98" r="0.75"/>
<circle cx="249.5" cy="104.2" r="0.75"/>
<circle cx="255" cy="108" r="0.75"/>
<circle cx="260.3" cy="112.2" r="0.75"/>
<circle cx="244.3" cy="115.2" r="0.75"/>
<circle cx="249.6" cy="117.9" r="0.75"/>
<circle cx="255" cy="116.1" r="0.75"/>
<circle cx="252.3" cy="134" r="0.75"/>
<circle cx="247.1" cy="144.4" r="0.75"/>
<circle cx="252.3" cy="144.4" r="0.75"/>
<circle cx="257.5" cy="144.4" r="0.75"/>
<circle cx="302.1" cy="66.8" r="0.75"/>
<circle cx="296.9" cy="70.6" r="0.75"/>
<circle cx="299.3" cy="79.3" r="0.75"/>
<circle cx="288.3" cy="82.8" r="0.75"/>
<circle cx="291.1" cy="84.3" r="0.75"/>
<circle cx="294.1" cy="85.2" r="0.75"/>
<circle cx="297.4" cy="87.5" r="0.75"/>
<circle cx="300.7" cy="85.9" r="0.75"/>
<circle cx="304.3" cy="84.7" r="0.75"/>
<circle cx="307.8" cy="83.1" r="0.75"/>
<circle cx="310.6" cy="82.8" r="0.75"/>
<circle cx="331.4" cy="56.7" r="0.75"/>
<circle cx="336.7" cy="61.25" r="0.75"/>
<circle cx="341.5" cy="62.5" r="0.75"/>
<circle cx="344.6" cy="61.25" r="0.75"/>
<circle cx="331.25" cy="65.25" r="0.75"/>
<circle cx="336.7" cy="66.9" r="0.75"/>
<circle cx="328.6" cy="70.7" r="0.75"/>
<circle cx="339.2" cy="71.8" r="0.75"/>
<circle cx="344.3" cy="70.25" r="0.75"/>
<circle cx="334" cy="75.7" r="0.75"/>
<circle cx="363.3" cy="77.5" r="0.75"/>
<circle cx="362.9" cy="80.8" r="0.75"/>
<circle cx="365.8" cy="80.8" r="0.75"/>
<circle cx="368.75" cy="78.3" r="0.75"/>
<circle cx="373.75" cy="79.8" r="0.75"/>
<circle cx="379.2" cy="78.3" r="0.75"/>
<circle cx="384.2" cy="76.7" r="0.75"/>
<circle cx="385.4" cy="80.7" r="0.75"/>
<circle cx="382.5" cy="80.8" r="0.75"/>
<circle cx="369" cy="84.3" r="0.75"/>
<circle cx="372" cy="85.4" r="0.75"/>
<circle cx="375.1" cy="85.4" r="0.75"/>
<circle cx="378.5" cy="83.4" r="0.75"/>
<circle cx="413.6" cy="99.4" r="0.75"/>
<circle cx="405.8" cy="109.9" r="0.75"/>
<circle cx="410.9" cy="109.7" r="0.75"/>
<circle cx="414.1" cy="110.2" r="0.75"/>
<circle cx="418.9" cy="109.9" r="0.75"/>
<circle cx="426.7" cy="108.9" r="0.75"/>
<circle cx="403.1" cy="112.8" r="0.75"/>
<circle cx="408.5" cy="114.1" r="0.75"/>
<circle cx="424" cy="113.8" r="0.75"/>
<circle cx="413.8" cy="117.5" r="0.75"/>
<circle cx="418.9" cy="116.2" r="0.75"/>
<circle cx="452.3" cy="92.3" r="0.75"/>
<circle cx="449.6" cy="97.9" r="0.75"/>
<circle cx="455" cy="97.5" r="0.75"/>
<circle cx="441.8" cy="102.1" r="0.75"/>
<circle cx="462.9" cy="101.8" r="0.75"/>
<circle cx="457.7" cy="103.75" r="0.75"/>
<circle cx="447.3" cy="105.4" r="0.75"/>
<circle cx="452.3" cy="106.25" r="0.75"/>
<circle cx="455" cy="106.8" r="0.75"/>
<circle cx="449.8" cy="111.8" r="0.75"/>
<circle cx="484.8" cy="105.6" r="0.75"/>
<circle cx="495.4" cy="104.8" r="0.75"/>
<circle cx="490.4" cy="106.7" r="0.75"/>
<circle cx="480.8" cy="109.6" r="0.75"/>
<circle cx="483.75" cy="110" r="0.75"/>
<circle cx="487.5" cy="108.3" r="0.75"/>
<circle cx="492.5" cy="108.3" r="0.75"/>
<circle cx="497" cy="109.6" r="0.75"/>
<circle cx="499.6" cy="108.75" r="0.75"/>
<circle cx="486.25" cy="112.5" r="0.75"/>
<circle cx="489.2" cy="113.2" r="0.75"/>
<circle cx="492" cy="112.5" r="0.75"/>
<circle cx="495" cy="111.25" r="0.75"/>
<circle cx="498.75" cy="110.4" r="0.75"/>
<circle cx="52.8" cy="251.55" r="0.75"/>
<circle cx="52.8" cy="270.6" r="0.75"/>
<circle cx="50.5" cy="282.5" r="0.75"/>
<circle cx="55.8" cy="284.1" r="0.75"/>
<circle cx="47.9" cy="288.8" r="0.75"/>
<circle cx="52.8" cy="290.2" r="0.75"/>
<circle cx="58.4" cy="290.2" r="0.75"/>
<circle cx="50.5" cy="294.1" r="0.75"/>
<circle cx="55.8" cy="296.7" r="0.75"/>
<circle cx="50.5" cy="325.2" r="0.75"/>
<circle cx="55.7" cy="325.2" r="0.75"/>
<circle cx="91" cy="265.4" r="0.75"/>
<circle cx="96.5" cy="265.4" r="0.75"/>
<circle cx="96.5" cy="274" r="0.75"/>
<circle cx="91" cy="276.5" r="0.75"/>
<circle cx="86" cy="278.75" r="0.75"/>
<circle cx="101.25" cy="278.1" r="0.75"/>
<circle cx="97.5" cy="280.4" r="0.75"/>
<circle cx="89.75" cy="281.5" r="0.75"/>
<circle cx="93.75" cy="282.75" r="0.75"/>
<circle cx="93.75" cy="325.2" r="0.75"/>
<circle cx="126.7" cy="282.5" r="0.75"/>
<circle cx="130.3" cy="280.5" r="0.75"/>
<circle cx="135.7" cy="279.7" r="0.75"/>
<circle cx="140" cy="281" r="0.75"/>
<circle cx="137.3" cy="283" r="0.75"/>
<circle cx="131.7" cy="285" r="0.75"/>
<circle cx="134.3" cy="285.3" r="0.75"/>
<circle cx="128.7" cy="283.7" r="0.75"/>
<circle cx="125.3" cy="287.3" r="0.75"/>
<circle cx="141.2" cy="287.3" r="0.75"/>
<circle cx="130.5" cy="291.5" r="0.75"/>
<circle cx="136" cy="291.5" r="0.75"/>
<circle cx="133.3" cy="300.3" r="0.75"/>
<circle cx="176.2" cy="223.3" r="0.75"/>
<circle cx="176.2" cy="238.8" r="0.75"/>
<circle cx="173.7" cy="255.3" r="0.75"/>
<circle cx="179.2" cy="255" r="0.75"/>
<circle cx="184.2" cy="257.5" r="0.75"/>
<circle cx="168.7" cy="259.2" r="0.75"/>
<circle cx="172.5" cy="260.3" r="0.75"/>
<circle cx="180" cy="260.3" r="0.75"/>
<circle cx="176.3" cy="262.5" r="0.75"/>
<circle cx="179.2" cy="264.5" r="0.75"/>
<circle cx="173.7" cy="268.3" r="0.75"/>
<circle cx="214.25" cy="223.5" r="0.75"/>
<circle cx="208.8" cy="228.4" r="0.75"/>
<circle cx="214.25" cy="229.4" r="0.75"/>
<circle cx="219.5" cy="228" r="0.75"/>
<circle cx="208.8" cy="235" r="0.75"/>
<circle cx="219.5" cy="235.6" r="0.75"/>
<circle cx="214.25" cy="238.5" r="0.75"/>
<circle cx="211.2" cy="245.8" r="0.75"/>
<circle cx="216.75" cy="248.8" r="0.75"/>
<circle cx="214.25" cy="261.75" r="0.75"/>
<circle cx="244.7" cy="254.5" r="0.75"/>
<circle cx="243.7" cy="259.4" r="0.75"/>
<circle cx="246.1" cy="259.7" r="0.75"/>
<circle cx="248.2" cy="258.7" r="0.75"/>
<circle cx="249.9" cy="257.5" r="0.75"/>
<circle cx="248.5" cy="261.1" r="0.75"/>
<circle cx="251.3" cy="263.5" r="0.75"/>
<circle cx="253" cy="264.6" r="0.75"/>
<circle cx="254.75" cy="263.2" r="0.75"/>
<circle cx="255.1" cy="257.6" r="0.75"/>
<circle cx="254.4" cy="260" r="0.75"/>
<circle cx="257.2" cy="259" r="0.75"/>
<circle cx="260" cy="257.3" r="0.75"/>
<circle cx="260.6" cy="259.7" r="0.75"/>
<circle cx="299.4" cy="218.7" r="0.75"/>
<circle cx="299.4" cy="228.6" r="0.75"/>
<circle cx="299.4" cy="237.9" r="0.75"/>
<circle cx="297" cy="246.1" r="0.75"/>
<circle cx="302" cy="244.2" r="0.75"/>
<circle cx="291.8" cy="250.8" r="0.75"/>
<circle cx="297" cy="252.9" r="0.75"/>
<circle cx="302.5" cy="253.4" r="0.75"/>
<circle cx="305.1" cy="252.6" r="0.75"/>
<circle cx="297" cy="258.4" r="0.75"/>
<circle cx="333.6" cy="211.2" r="0.75"/>
<circle cx="341.9" cy="211.2" r="0.75"/>
<circle cx="333.6" cy="217.2" r="0.75"/>
<circle cx="339.1" cy="215.8" r="0.75"/>
<circle cx="328.6" cy="220.5" r="0.75"/>
<circle cx="333.6" cy="222.7" r="0.75"/>
<circle cx="339.1" cy="223.3" r="0.75"/>
<circle cx="344.2" cy="222.7" r="0.75"/>
<circle cx="339.1" cy="242.3" r="0.75"/>
<circle cx="333.6" cy="246.2" r="0.75"/>
<circle cx="378.6" cy="246.1" r="0.75"/>
<circle cx="367.8" cy="248.5" r="0.75"/>
<circle cx="370.6" cy="250" r="0.75"/>
<circle cx="368.5" cy="251.4" r="0.75"/>
<circle cx="375.8" cy="250.7" r="0.75"/>
<circle cx="378.2" cy="252.1" r="0.75"/>
<circle cx="368.9" cy="253.9" r="0.75"/>
<circle cx="371.6" cy="253.9" r="0.75"/>
<circle cx="374.75" cy="254.2" r="0.75"/>
<circle cx="368.9" cy="256.6" r="0.75"/>
<circle cx="381" cy="255.8" r="0.75"/>
<circle cx="377.2" cy="258.4" r="0.75"/>
<circle cx="373" cy="260.1" r="0.75"/>
<circle cx="411.9" cy="239.6" r="0.75"/>
<circle cx="417.4" cy="242.1" r="0.75"/>
<circle cx="414.7" cy="255.2" r="0.75"/>
<circle cx="411.9" cy="264.6" r="0.75"/>
<circle cx="419.9" cy="268.4" r="0.75"/>
<circle cx="411.9" cy="272.3" r="0.75"/>
<circle cx="417.4" cy="271.6" r="0.75"/>
<circle cx="419.9" cy="273" r="0.75"/>
<circle cx="409.1" cy="274.8" r="0.75"/>
<circle cx="412.6" cy="276.7" r="0.75"/>
<circle cx="416" cy="275.75" r="0.75"/>
<circle cx="449.5" cy="218.2" r="0.75"/>
<circle cx="454.9" cy="214.7" r="0.75"/>
<circle cx="452.5" cy="227.4" r="0.75"/>
<circle cx="455.2" cy="234.2" r="0.75"/>
<circle cx="449.5" cy="236.7" r="0.75"/>
<circle cx="444.3" cy="240.9" r="0.75"/>
<circle cx="449.5" cy="245.1" r="0.75"/>
<circle cx="454.9" cy="245.1" r="0.75"/>
<circle cx="460.4" cy="245.1" r="0.75"/>
<circle cx="452.5" cy="257.6" r="0.75"/>
<circle cx="487.6" cy="249.8" r="0.75"/>
<circle cx="492.8" cy="251.6" r="0.75"/>
<circle cx="495.6" cy="257.4" r="0.75"/>
<circle cx="484.6" cy="259.2" r="0.75"/>
<circle cx="487.8" cy="260.7" r="0.75"/>
<circle cx="492.8" cy="261" r="0.75"/>
<circle cx="484.6" cy="264.4" r="0.75"/>
<circle cx="487.8" cy="265.3" r="0.75"/>
<circle cx="491" cy="266" r="0.75"/>
<circle cx="492.8" cy="265.3" r="0.75"/>
<circle cx="495.8" cy="265" r="0.75"/>
<circle cx="484.6" cy="268.7" r="0.75"/>
<circle cx="490.4" cy="271.25" r="0.75"/>
<circle cx="495.6" cy="271.1" r="0.75"/>
</g>
<g class="t">
<text x="26.4" y="14.4" font-size="8.5" text-anchor="end" fill="#333">6</text>
<text x="26.4" y="34.3" font-size="8.5" text-anchor="end" fill="#333">5</text>
<text x="26.4" y="54.2" font-size="8.5" text-anchor="end" fill="#333">4</text>
<text x="26.4" y="74.1" font-size="8.5" text-anchor="end" fill="#333">3</text>
<text x="26.4" y="94" font-size="8.5" text-anchor="end" fill="#333">2</text>
<text x="26.4" y="113.9" font-size="8.5" text-anchor="end" fill="#333">1</text>
<text x="26.4" y="147.2" font-size="8.5" text-anchor="end" fill="#333">0</text>
<text x="26.4" y="195.2" font-size="8.5" text-anchor="end" fill="#333">6</text>
<text x="26.4" y="215.1" font-size="8.5" text-anchor="end" fill="#333">5</text>
<text x="26.4" y="235" font-size="8.5" text-anchor="end" fill="#333">4</text>
<text x="26.4" y="254.9" font-size="8.5" text-anchor="end" fill="#333">3</text>
<text x="26.4" y="274.8" font-size="8.5" text-anchor="end" fill="#333">2</text>
<text x="26.4" y="294.7" font-size="8.5" text-anchor="end" fill="#333">1</text>
<text x="26.4" y="328" font-size="8.5" text-anchor="end" fill="#333">0</text>
<text x="47.9" y="154.7" font-size="8.4" textLength="9.9" lengthAdjust="spacingAndGlyphs">HV</text>
<text x="79" y="154.7" font-size="8.4" textLength="29.8" lengthAdjust="spacingAndGlyphs">T-CAEBV</text>
<text x="124.4" y="154.7" font-size="8.4" textLength="17.2" lengthAdjust="spacingAndGlyphs">CTRL</text>
<text x="169.5" y="154.7" font-size="8.4" textLength="10.5" lengthAdjust="spacingAndGlyphs">HV</text>
<text x="199.5" y="154.7" font-size="8.4" textLength="29.3" lengthAdjust="spacingAndGlyphs">T-CAEBV</text>
<text x="243.8" y="154.7" font-size="8.4" textLength="17" lengthAdjust="spacingAndGlyphs">CTRL</text>
<text x="294.3" y="154.7" font-size="8.4" textLength="10.2" lengthAdjust="spacingAndGlyphs">HV</text>
<text x="321.3" y="154.7" font-size="8.4" textLength="30" lengthAdjust="spacingAndGlyphs">T-CAEBV</text>
<text x="365" y="154.7" font-size="8.4" textLength="17" lengthAdjust="spacingAndGlyphs">CTRL</text>
<text x="408.7" y="154.7" font-size="8.4" textLength="10.3" lengthAdjust="spacingAndGlyphs">HV</text>
<text x="437.8" y="154.7" font-size="8.4" textLength="29.3" lengthAdjust="spacingAndGlyphs">T-CAEBV</text>
<text x="481.5" y="154.7" font-size="8.4" textLength="17.3" lengthAdjust="spacingAndGlyphs">CTRL</text>
<text x="47.5" y="335.7" font-size="8.4" textLength="10.5" lengthAdjust="spacingAndGlyphs">HV</text>
<text x="78.8" y="335.7" font-size="8.4" textLength="29.5" lengthAdjust="spacingAndGlyphs">T-CAEBV</text>
<text x="124.5" y="335.7" font-size="8.4" textLength="16.8" lengthAdjust="spacingAndGlyphs">CTRL</text>
<text x="171.3" y="335.7" font-size="8.4" textLength="10" lengthAdjust="spacingAndGlyphs">HV</text>
<text x="200" y="335.7" font-size="8.4" textLength="29.3" lengthAdjust="spacingAndGlyphs">T-CAEBV</text>
<text x="243.8" y="335.7" font-size="8.4" textLength="17" lengthAdjust="spacingAndGlyphs">CTRL</text>
<text x="294.3" y="335.7" font-size="8.4" textLength="10.2" lengthAdjust="spacingAndGlyphs">HV</text>
<text x="321.3" y="335.7" font-size="8.4" textLength="30" lengthAdjust="spacingAndGlyphs">T-CAEBV</text>
<text x="365" y="335.7" font-size="8.4" textLength="17" lengthAdjust="spacingAndGlyphs">CTRL</text>
<text x="409.4" y="335.7" font-size="8.4" textLength="10.1" lengthAdjust="spacingAndGlyphs">HV</text>
<text x="437.8" y="335.7" font-size="8.4" textLength="29.3" lengthAdjust="spacingAndGlyphs">T-CAEBV</text>
<text x="481.5" y="335.7" font-size="8.4" textLength="17.3" lengthAdjust="spacingAndGlyphs">CTRL</text>
<text x="87.9" y="170" font-size="8.4" textLength="11.9" lengthAdjust="spacingAndGlyphs">IL-6</text>
<text x="208" y="170" font-size="8.4" textLength="12.8" lengthAdjust="spacingAndGlyphs">IL-8</text>
<text x="327.5" y="170" font-size="8.4" textLength="17" lengthAdjust="spacingAndGlyphs">IL-18</text>
<text x="441.9" y="170" font-size="8.4" textLength="14.9" lengthAdjust="spacingAndGlyphs">TNF-</text>
<text x="85" y="350.7" font-size="8.4" textLength="12.4" lengthAdjust="spacingAndGlyphs">IFN-</text>
<text x="205.8" y="350.7" font-size="8.4" textLength="16.7" lengthAdjust="spacingAndGlyphs">IP-10</text>
<text x="330" y="350.7" font-size="8.4" textLength="13.8" lengthAdjust="spacingAndGlyphs">MIG</text>
<text x="443.8" y="350.7" font-size="8.4" textLength="16.6" lengthAdjust="spacingAndGlyphs">I-TAC</text>
<text x="456.6" y="170" font-size="9.4" textLength="6.6" lengthAdjust="spacingAndGlyphs" style="font-family:'Liberation Serif',serif">α</text>
<text x="97" y="350.7" font-size="8.8" textLength="5" lengthAdjust="spacingAndGlyphs" style="font-family:'Liberation Serif',serif;font-style:italic">γ</text>
<text x="60" y="40.1" font-size="8" textLength="26.5" lengthAdjust="spacingAndGlyphs">P=0.003</text>
<text x="220" y="40.1" font-size="8" textLength="26" lengthAdjust="spacingAndGlyphs">P=0.002</text>
<text x="307" y="40.1" font-size="8" textLength="21.4" lengthAdjust="spacingAndGlyphs">P&lt;0.01</text>
<text x="342.8" y="40.1" font-size="8" textLength="27.1" lengthAdjust="spacingAndGlyphs">P=0.002</text>
<text x="419.5" y="40.1" font-size="8" textLength="26" lengthAdjust="spacingAndGlyphs">P=0.002</text>
<text x="458.8" y="40.1" font-size="8" textLength="26.2" lengthAdjust="spacingAndGlyphs">P=0.003</text>
<text x="181.3" y="195" font-size="8" textLength="26.2" lengthAdjust="spacingAndGlyphs">P&lt;0.004</text>
<text x="220.5" y="195" font-size="8" textLength="26.3" lengthAdjust="spacingAndGlyphs">P&lt;0.001</text>
<text x="304.5" y="195" font-size="8" textLength="26" lengthAdjust="spacingAndGlyphs">P&lt;0.001</text>
<text x="342.5" y="195" font-size="8" textLength="26.3" lengthAdjust="spacingAndGlyphs">P&lt;0.001</text>
<text x="420" y="195" font-size="8" textLength="25.5" lengthAdjust="spacingAndGlyphs">P&lt;0.001</text>
<text x="458" y="195" font-size="8" textLength="26.3" lengthAdjust="spacingAndGlyphs">P&lt;0.001</text>
</g>
</g>
<g transform="translate(16.3,133.2) rotate(-90)" fill="#262626" stroke="#262626" stroke-width="0.18"><text x="0" y="0" font-size="9.7" textLength="73.7" lengthAdjust="spacingAndGlyphs">Cytokine level log</text><text x="74.6" y="1.9" font-size="7" textLength="6.2" lengthAdjust="spacingAndGlyphs">10</text><text x="81.3" y="0" font-size="9.7" textLength="31.8" lengthAdjust="spacingAndGlyphs">(pg/ml)</text></g>
<g transform="translate(16.3,314) rotate(-90)" fill="#262626" stroke="#262626" stroke-width="0.18"><text x="0" y="0" font-size="9.7" textLength="73.7" lengthAdjust="spacingAndGlyphs">Cytokine level log</text><text x="74.6" y="1.9" font-size="7" textLength="6.2" lengthAdjust="spacingAndGlyphs">10</text><text x="81.3" y="0" font-size="9.7" textLength="31.8" lengthAdjust="spacingAndGlyphs">(pg/ml)</text></g>
<rect x="0" y="0" width="1" height="361" fill="#4d4d4d"/>
<rect x="1" y="0" width="1" height="361" fill="#a0a0a0"/>
<rect x="0" y="0" width="520" height="1" fill="#4d4d4d"/>
<rect x="0" y="1" width="520" height="1" fill="#a8a8a8"/>
<rect x="518" y="0" width="1" height="361" fill="#f0f0f0"/>
<rect x="519" y="0" width="1" height="361" fill="#111"/>
<rect x="0" y="359" width="520" height="1" fill="#f0f0f0"/>
<rect x="0" y="360" width="520" height="1" fill="#111"/>
</svg>
</body></html>
